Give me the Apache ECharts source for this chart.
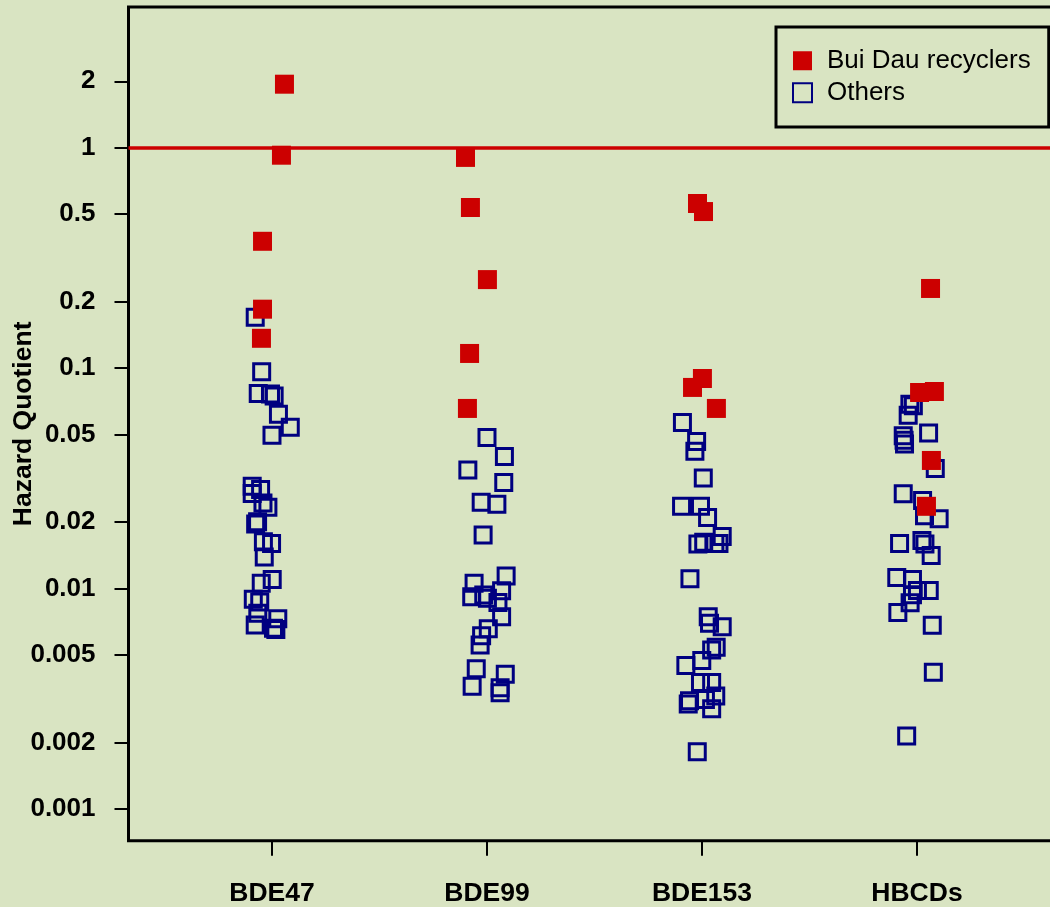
<!DOCTYPE html>
<html>
<head>
<meta charset="utf-8">
<script src="https://cdn.jsdelivr.net/npm/echarts@6/dist/echarts.min.js"></script>
<style>
html,body{margin:0;padding:0;background:#d9e4c2;}
#chart{width:1050px;height:907px;}
</style>
</head>
<body>
<div id="chart"></div>
<script>
// Categories and axis ticks
const categories = ['BDE47', 'BDE99', 'BDE153', 'HBCDs'];
const yTickValues = [0.001, 0.002, 0.005, 0.01, 0.02, 0.05, 0.1, 0.2, 0.5, 1, 2];
const yTickLabels = ['0.001', '0.002', '0.005', '0.01', '0.02', '0.05', '0.1', '0.2', '0.5', '1', '2'];
const referenceHQ = 1;

// Bui Dau recyclers (jitter offsets from category position, hazard quotients)
const bde47RecX = [0.058, 0.044, -0.044, -0.044, -0.049];
const bde47RecHQ = [1.94, 0.924, 0.376, 0.185, 0.1365];
const bde99RecX = [-0.100, -0.077, 0.002, -0.081, -0.091];
const bde99RecHQ = [0.903, 0.535, 0.252, 0.1165, 0.0656];
const bde153RecX = [-0.021, 0.007, 0.002, -0.044, 0.067];
const bde153RecHQ = [0.558, 0.513, 0.0897, 0.0817, 0.0656];
const hbcdRecX = [0.063, 0.012, 0.081, 0.067, 0.044];
const hbcdRecHQ = [0.2297, 0.0775, 0.0783, 0.0381, 0.0236];

// Others
const bde47OthX = [-0.078, -0.048, -0.064, -0.007, 0.010, 0.030, 0.085, 0, -0.092, -0.092, -0.053, -0.042, -0.019, -0.076, -0.067, -0.040, -0.002, -0.036, 0.001, -0.050, -0.087, -0.057, -0.066, 0.027, -0.078, 0.007, 0.018];
const bde47OthHQ = [0.170, 0.0963, 0.0767, 0.0762, 0.0747, 0.0618, 0.0539, 0.0496, 0.0291, 0.0270, 0.0281, 0.0244, 0.0234, 0.0196, 0.0201, 0.0163, 0.0160, 0.0139, 0.0110, 0.01057, 0.00894, 0.00869, 0.00772, 0.00729, 0.00683, 0.0066, 0.00652];
const bde99OthX = [0, 0.081, -0.089, 0.078, -0.027, 0.046, -0.018, 0.089, -0.060, 0.068, -0.071, -0.015, 0.002, 0.051, 0.068, 0.006, -0.025, -0.032, -0.050, 0.085, -0.069, 0.061, 0.061];
const bde99OthHQ = [0.0484, 0.0397, 0.0345, 0.0303, 0.0246, 0.0241, 0.0175, 0.0114, 0.01056, 0.00976, 0.00918, 0.00934, 0.00903, 0.00864, 0.00745, 0.00657, 0.0061, 0.00554, 0.00433, 0.00408, 0.0036, 0.00355, 0.00337];
const bde153OthX = [-0.091, -0.025, -0.033, 0.006, -0.095, -0.007, 0.026, 0.094, -0.019, 0.008, 0.060, 0.079, -0.056, 0.029, 0.035, 0.094, 0.066, 0.045, -0.001, -0.075, -0.007, 0.045, 0.064, 0.016, -0.058, -0.064, 0.045, -0.022];
const bde153OthHQ = [0.0566, 0.0465, 0.0420, 0.0317, 0.0236, 0.0236, 0.0210, 0.0172, 0.0159, 0.0162, 0.0160, 0.0160, 0.01107, 0.00744, 0.00695, 0.00671, 0.00542, 0.00526, 0.00471, 0.00448, 0.00375, 0.00375, 0.00325, 0.00314, 0.0031, 0.00299, 0.00285, 0.00182];
const hbcdOthX = [-0.033, -0.017, -0.041, 0.054, -0.064, -0.060, -0.058, 0.085, -0.064, 0.026, 0.035, 0.103, -0.081, 0.023, 0.037, 0.066, -0.094, -0.021, 0.057, 0.002, -0.021, -0.032, -0.089, 0.071, 0.076, -0.048];
const hbcdOthHQ = [0.0686, 0.0675, 0.0611, 0.0508, 0.0493, 0.0471, 0.0452, 0.0350, 0.0269, 0.0251, 0.0214, 0.0207, 0.0160, 0.0165, 0.0159, 0.0141, 0.01122, 0.0110, 0.0098, 0.0098, 0.00937, 0.00861, 0.00778, 0.00681, 0.00417, 0.00214];

function build(groups) {
  const out = [];
  groups.forEach(function (g, gi) {
    const xs = g[0], ys = g[1];
    for (let i = 0; i < xs.length; i++) {
      out.push([gi + 1 + xs[i], Math.log10(ys[i])]);
    }
  });
  return out;
}
const recData = build([[bde47RecX, bde47RecHQ], [bde99RecX, bde99RecHQ], [bde153RecX, bde153RecHQ], [hbcdRecX, hbcdRecHQ]]);
const othData = build([[bde47OthX, bde47OthHQ], [bde99OthX, bde99OthHQ], [bde153OthX, bde153OthHQ], [hbcdOthX, hbcdOthHQ]]);

const yTickLogs = yTickValues.map(function (v) { return Math.log10(v); });
function yLabel(v) {
  let best = 0, bd = Infinity;
  yTickLogs.forEach(function (t, i) { const d = Math.abs(t - v); if (d < bd) { bd = d; best = i; } });
  return yTickLabels[best];
}

const FONT = 'Liberation Sans, Arial, sans-serif';
const chart = echarts.init(document.getElementById('chart'), null, { renderer: 'canvas' });
chart.setOption({
  backgroundColor: '#d9e4c2',
  animation: false,
  grid: {
    left: 128.5, top: 7, width: 960, height: 833.7,
    outerBoundsMode: 'none', containLabel: false,
    show: true, borderColor: '#000', borderWidth: 3, backgroundColor: 'transparent'
  },
  xAxis: {
    type: 'value', min: 0.3326, max: 0.3326 + 960 / 215,
    axisLine: { show: false, onZero: false },
    splitLine: { show: false },
    axisTick: { show: true, length: 15, lineStyle: { color: '#000', width: 2 }, customValues: [1, 2, 3, 4] },
    axisLabel: {
      customValues: [1, 2, 3, 4], margin: 39,
      formatter: function (v) { return categories[Math.round(v) - 1]; },
      fontFamily: FONT, fontWeight: 'bold', fontSize: 26.5, color: '#000'
    }
  },
  yAxis: {
    type: 'value', min: -3.144, max: 0.638,
    name: 'Hazard Quotient', nameLocation: 'middle', nameGap: 91, nameMoveOverlap: false,
    nameTextStyle: { fontFamily: FONT, fontWeight: 'bold', fontSize: 26.5, color: '#000' },
    axisLine: { show: false, onZero: false },
    splitLine: { show: false },
    axisTick: { show: true, length: 14, lineStyle: { color: '#000', width: 2 }, customValues: yTickLogs },
    axisLabel: {
      customValues: yTickLogs, margin: 33, formatter: yLabel,
      fontFamily: FONT, fontWeight: 'bold', fontSize: 26, color: '#000'
    }
  },
  legend: {
    orient: 'vertical', left: 776, top: 27,
    padding: [20.75, 18, 21.25, 16],
    itemWidth: 19, itemHeight: 19, itemGap: 6,
    borderColor: '#000', borderWidth: 3,
    data: ['Bui Dau recyclers', 'Others'],
    textStyle: { fontFamily: FONT, fontSize: 26, color: '#000', padding: [0, 0, 0, 10] }
  },
  series: [
    {
      name: 'Others', type: 'scatter', symbol: 'rect', symbolSize: 16,
      itemStyle: { color: 'rgba(0,0,0,0)', borderColor: '#000080', borderWidth: 3, opacity: 1 },
      data: othData, z: 2
    },
    {
      name: 'Bui Dau recyclers', type: 'scatter', symbol: 'rect', symbolSize: 19,
      itemStyle: { color: '#cc0000', opacity: 1 },
      data: recData, z: 3,
      markLine: {
        silent: true, symbol: 'none', label: { show: false },
        lineStyle: { color: '#cc0000', width: 3.5, type: 'solid' },
        data: [{ yAxis: Math.log10(referenceHQ) }]
      }
    }
  ]
});
</script>
</body>
</html>
